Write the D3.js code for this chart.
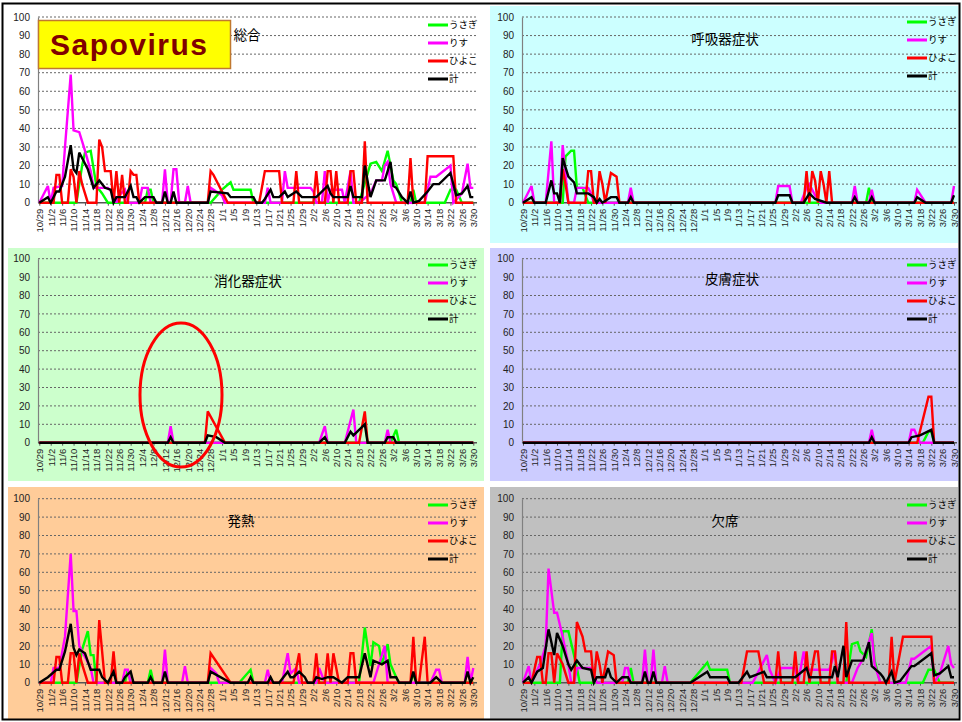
<!DOCTYPE html>
<html><head><meta charset="utf-8">
<script src="https://cdnjs.cloudflare.com/ajax/libs/d3/7.8.5/d3.min.js"></script>
<style>body{margin:0;background:#fff;}svg{display:block;}</style>
</head><body>
<svg id="c" width="962" height="722"></svg>
<script>
// ---------- DATA ----------
// day index 0 = 10/29, one step per day, 152 = 3/30
const tickLabels = ["10/29","11/2","11/6","11/10","11/14","11/18","11/22","11/26","11/30","12/4","12/8","12/12","12/16","12/20","12/24","12/28","1/1","1/5","1/9","1/13","1/17","1/21","1/25","1/29","2/2","2/6","2/10","2/14","2/18","2/22","2/26","3/2","3/6","3/10","3/14","3/18","3/22","3/26","3/30"];
const yTicks = [0,10,20,30,40,50,60,70,80,90,100];
const seriesNames = ["うさぎ","りす","ひよこ","計"];
const panelTitles = ["総合","呼吸器症状","消化器症状","皮膚症状","発熱","欠席"];

// 総合
const sogoUsagi = [[0,0],[13,0],[15,20],[16,27],[18,28],[20,9],[22,5],[24,0],[37,0],[38,7],[39,7],[40,0],[60,0],[64,7],[67,11],[68,7],[74,7],[75,0],[112,0],[116,21],[118,22],[120,17],[122,28],[124,12],[125,10],[127,0],[130,0],[131,7],[132,0],[142,0],[144,7],[146,7],[148,0],[152,0]];
const sogoRisu = [[0,0],[3,9],[4,0],[5,8],[8,9],[9,30],[11,69],[12,39],[14,38],[16,28],[18,17],[19,8],[24,8],[26,5],[27,0],[28,4],[30,7],[31,0],[35,0],[36,8],[38,8],[39,0],[43,0],[44,18],[45,0],[46,0],[47,18],[48,18],[49,0],[51,0],[52,9],[53,0],[59,0],[60,8],[62,6],[64,4],[65,0],[79,0],[80,8],[81,0],[85,0],[86,17],[87,8],[95,8],[96,6],[97,0],[99,0],[100,17],[101,0],[102,7],[106,7],[107,0],[109,17],[110,0],[112,0],[116,5],[118,12],[120,12],[121,20],[122,22],[123,10],[125,0],[135,0],[137,14],[139,14],[144,20],[145,0],[148,5],[150,21],[151,8],[152,8]];
const sogoHiyoko = [[0,0],[5,0],[6,15],[7,15],[8,0],[10,0],[11,18],[12,14],[13,0],[14,17],[15,10],[17,0],[20,0],[21,34],[22,30],[23,17],[25,17],[26,0],[27,17],[28,0],[29,15],[30,0],[31,0],[32,17],[33,15],[34,15],[35,0],[59,0],[60,17],[61,15],[66,0],[77,0],[79,17],[84,17],[85,0],[89,0],[90,17],[91,0],[96,0],[97,17],[98,0],[100,0],[101,17],[102,17],[103,0],[104,17],[105,0],[108,0],[109,17],[110,17],[111,0],[113,0],[114,33],[115,0],[129,0],[130,24],[131,0],[135,0],[136,25],[145,25],[146,0],[152,0]];
const sogoKei = [[0,0],[3,3],[4,0],[6,6],[7,6],[9,14],[11,31],[12,18],[13,16],[14,27],[17,18],[19,8],[21,12],[23,8],[25,7],[26,0],[27,3],[30,3],[32,9],[33,3],[34,3],[35,0],[37,3],[40,3],[41,0],[43,0],[44,6],[45,0],[46,0],[47,6],[48,0],[59,0],[60,6],[66,5],[67,3],[75,3],[76,0],[78,0],[79,2],[81,7],[82,3],[84,3],[86,6],[87,3],[90,6],[92,3],[97,3],[101,9],[102,5],[103,3],[108,3],[109,9],[110,3],[113,3],[114,20],[116,3],[118,12],[121,12],[123,22],[124,9],[125,8],[127,3],[129,0],[130,6],[131,0],[133,1],[136,6],[138,10],[140,10],[144,16],[146,4],[148,5],[150,9],[151,3],[152,3]];

// 呼吸器症状
const kokyuUsagi = [[0,0],[14,0],[15,25],[17,28],[18,28],[19,8],[21,8],[23,0],[121,0],[122,8],[123,0],[152,0]];
const kokyuRisu = [[0,0],[3,9],[4,0],[8,0],[10,33],[11,0],[13,0],[14,31],[15,15],[16,0],[18,0],[19,8],[23,8],[24,5],[25,0],[37,0],[38,8],[39,0],[89,0],[90,9],[94,9],[95,0],[98,0],[100,8],[101,10],[103,4],[105,0],[116,0],[117,9],[118,0],[122,0],[123,7],[124,0],[138,0],[139,7],[142,0],[151,0],[152,9]];
const kokyuHiyoko = [[0,0],[13,0],[14,18],[15,10],[16,0],[22,0],[23,17],[24,17],[25,0],[26,0],[27,17],[28,10],[29,0],[31,16],[33,14],[34,0],[99,0],[100,17],[101,0],[102,17],[103,12],[104,0],[105,17],[106,10],[107,0],[108,17],[109,0],[152,0]];
const kokyuKei = [[0,0],[3,3],[4,0],[8,0],[10,12],[11,5],[12,5],[13,0],[14,24],[16,14],[18,11],[19,5],[23,5],[25,3],[26,0],[27,2],[28,0],[31,3],[33,3],[34,0],[37,0],[38,3],[39,0],[89,0],[90,4],[94,4],[95,0],[99,0],[101,5],[103,2],[107,0],[116,0],[117,3],[118,0],[122,0],[123,3],[124,0],[138,0],[139,3],[142,0],[151,0],[152,4]];

// 消化器症状
const shokaUsagi = [[0,0],[123,0],[125,7],[126,0],[152,0]];
const shokaRisu = [[0,0],[45,0],[46,9],[47,0],[98,0],[100,9],[101,0],[107,0],[110,18],[111,0],[121,0],[122,7],[123,0],[152,0]];
const shokaHiyoko = [[0,0],[58,0],[59,17],[65,0],[112,0],[114,17],[115,0],[152,0]];
const shokaKei = [[0,0],[45,0],[46,3],[47,0],[58,0],[59,4],[62,3],[65,0],[98,0],[100,3],[101,0],[107,0],[109,6],[110,4],[112,7],[114,10],[115,0],[121,0],[122,3],[124,3],[125,0],[152,0]];

// 皮膚症状
const hifuUsagi = [[0,0],[141,0],[143,6],[144,6],[145,0],[152,0]];
const hifuRisu = [[0,0],[122,0],[123,7],[124,0],[136,0],[137,7],[138,7],[140,0],[152,0]];
const hifuHiyoko = [[0,0],[139,0],[143,25],[144,25],[145,0],[152,0]];
const hifuKei = [[0,0],[122,0],[123,3],[124,0],[136,0],[137,3],[140,4],[144,7],[145,0],[152,0]];

// 発熱
const netsuUsagi = [[0,0],[13,0],[15,18],[17,28],[18,15],[19,15],[20,0],[30,0],[31,7],[32,0],[38,0],[39,7],[40,0],[70,0],[74,7],[75,0],[112,0],[114,30],[116,9],[117,22],[119,20],[120,10],[122,21],[123,10],[125,3],[126,0],[130,0],[131,5],[132,0],[152,0]];
const netsuRisu = [[0,0],[4,0],[5,8],[7,8],[9,25],[11,70],[12,39],[13,39],[14,20],[16,14],[18,8],[19,0],[29,0],[30,7],[31,7],[32,0],[43,0],[44,18],[45,0],[50,0],[51,9],[52,0],[59,0],[60,8],[62,5],[63,0],[79,0],[80,7],[81,0],[85,0],[87,16],[88,5],[90,8],[91,0],[97,0],[98,8],[100,0],[117,0],[118,5],[121,20],[122,0],[137,0],[139,7],[140,7],[141,0],[149,0],[150,14],[151,0],[152,8]];
const netsuHiyoko = [[0,0],[5,0],[6,14],[7,14],[8,0],[10,0],[11,16],[12,16],[13,0],[14,16],[15,10],[17,0],[20,0],[21,34],[23,0],[25,0],[26,17],[27,0],[59,0],[60,16],[67,0],[89,0],[91,16],[92,0],[96,0],[97,16],[98,0],[100,0],[101,16],[102,0],[103,16],[105,0],[108,0],[109,16],[110,16],[111,0],[130,0],[131,25],[132,0],[133,0],[135,25],[136,0],[152,0]];
const netsuKei = [[0,0],[3,3],[6,7],[7,7],[9,17],[11,32],[12,19],[13,15],[14,18],[16,16],[18,7],[21,7],[22,3],[24,0],[26,6],[27,0],[29,0],[30,3],[32,6],[33,0],[38,0],[39,3],[40,0],[43,0],[44,6],[45,0],[59,0],[60,6],[67,0],[73,0],[74,3],[75,0],[80,0],[81,3],[82,0],[84,0],[87,6],[88,3],[89,3],[91,6],[93,3],[94,0],[96,0],[97,3],[99,2],[101,3],[103,3],[106,0],[108,3],[110,3],[112,3],[114,16],[116,3],[117,12],[120,10],[122,12],[123,3],[125,3],[126,0],[130,0],[131,6],[132,0],[137,0],[139,3],[141,0],[149,0],[150,6],[151,0],[152,3]];

// 欠席
const kessekiUsagi = [[0,0],[13,0],[14,28],[16,28],[18,15],[19,8],[20,0],[37,0],[38,8],[39,0],[59,0],[65,11],[66,7],[72,7],[73,0],[114,0],[116,21],[118,22],[119,17],[121,14],[123,29],[124,12],[126,0],[141,0],[143,7],[145,7],[147,0],[152,0]];
const kessekiRisu = [[0,0],[2,9],[3,0],[6,10],[8,20],[9,62],[11,38],[12,38],[14,25],[16,10],[17,0],[18,0],[19,8],[24,8],[25,5],[26,0],[35,0],[36,8],[37,8],[38,0],[42,0],[43,18],[44,0],[45,0],[46,18],[47,0],[49,0],[50,9],[51,0],[81,0],[86,15],[87,7],[89,0],[91,8],[96,8],[97,0],[99,17],[100,7],[103,7],[108,7],[110,17],[111,0],[116,0],[118,8],[120,13],[122,22],[123,27],[124,10],[126,0],[135,0],[137,13],[138,13],[144,20],[145,0],[147,5],[150,20],[151,10],[152,8]];
const kessekiHiyoko = [[0,0],[3,0],[5,14],[6,14],[7,0],[8,0],[9,16],[10,16],[11,0],[12,16],[14,10],[16,0],[18,0],[19,33],[21,25],[22,17],[24,17],[25,0],[26,17],[27,10],[28,0],[30,17],[32,15],[33,0],[77,0],[79,17],[83,17],[85,0],[89,0],[90,17],[91,0],[95,0],[96,17],[97,0],[99,0],[100,17],[101,0],[103,17],[104,17],[105,0],[108,0],[109,17],[110,17],[111,0],[113,0],[114,33],[115,0],[129,0],[130,25],[131,0],[134,25],[144,25],[145,0],[152,0]];
const kessekiKei = [[0,0],[2,3],[3,0],[5,6],[7,8],[9,29],[11,15],[12,27],[14,20],[16,10],[17,7],[19,12],[21,8],[24,7],[25,0],[26,3],[29,3],[30,8],[31,3],[33,0],[35,3],[37,3],[38,0],[42,0],[43,6],[44,0],[45,0],[46,6],[47,0],[59,0],[65,6],[66,3],[72,3],[73,0],[76,0],[79,6],[80,3],[85,6],[86,3],[96,3],[100,8],[101,3],[109,3],[110,9],[111,3],[113,20],[114,3],[116,12],[120,12],[122,22],[123,9],[126,5],[127,3],[128,0],[130,6],[131,0],[133,1],[137,9],[138,9],[144,16],[145,4],[147,5],[150,9],[151,3],[152,3]];

const panelData = [
  [sogoUsagi, sogoRisu, sogoHiyoko, sogoKei],
  [kokyuUsagi, kokyuRisu, kokyuHiyoko, kokyuKei],
  [shokaUsagi, shokaRisu, shokaHiyoko, shokaKei],
  [hifuUsagi, hifuRisu, hifuHiyoko, hifuKei],
  [netsuUsagi, netsuRisu, netsuHiyoko, netsuKei],
  [kessekiUsagi, kessekiRisu, kessekiHiyoko, kessekiKei]
];

// ---------- STYLE / LAYOUT ----------
const colors = ["#00FF00","#FF00FF","#FF0000","#000000"];
const layout = [
  {bx:8, by:6, bw:476,bh:237,bg:"#FFFFFF",ax:38, x0:39.3,x1:473.3,gx1:477,yT:17,  yB:202.7,tx:247,ty:36, lx:428,ly:25},
  {bx:490,by:6, bw:468,bh:237,bg:"#CCFFFF",ax:522,x0:523, x1:954, gx1:957,yT:17,  yB:202.7,tx:725,ty:40, lx:907,ly:22},
  {bx:8, by:248,bw:476,bh:233,bg:"#CCFFCC",ax:38, x0:39.3,x1:473.3,gx1:477,yT:258.7,yB:442.7,tx:248,ty:282,lx:428,ly:265},
  {bx:490,by:248,bw:468,bh:233,bg:"#CCCCFF",ax:522,x0:523, x1:954, gx1:957,yT:258.7,yB:442.7,tx:732,ty:280,lx:907,ly:265},
  {bx:8, by:487,bw:476,bh:232,bg:"#FFCC99",ax:38, x0:39.3,x1:473.3,gx1:477,yT:498.7,yB:682.7,tx:241,ty:522,lx:428,ly:505},
  {bx:490,by:487,bw:468,bh:232,bg:"#C0C0C0",ax:522,x0:523, x1:954, gx1:957,yT:498.7,yB:682.7,tx:725,ty:522,lx:907,ly:505}
];

const svg = d3.select("#c");
svg.append("rect").attr("x",0).attr("y",0).attr("width",962).attr("height",722).attr("fill","#fff");

const jp = "'Noto Sans CJK JP', 'Noto Sans', sans-serif";
const lat = "'Liberation Sans', Arial, sans-serif";

layout.forEach((L, pi) => {
  const g = svg.append("g");
  g.append("rect").attr("x",L.bx).attr("y",L.by).attr("width",L.bw).attr("height",L.bh).attr("fill",L.bg);
  const x = d3.scaleLinear().domain([0,152]).range([L.x0, L.x1]);
  const y = d3.scaleLinear().domain([0,100]).range([L.yB, L.yT]);

  // gridlines
  g.selectAll(".grid").data(yTicks.filter(v=>v>0)).join("line")
    .attr("x1",L.ax).attr("x2",L.gx1).attr("y1",d=>y(d)).attr("y2",d=>y(d))
    .attr("stroke","#666").attr("stroke-width",1).attr("stroke-dasharray","2,2");

  // y axis
  const yAxis = d3.axisLeft(y).tickValues(yTicks).tickSize(0).tickPadding(8);
  const ya = g.append("g").attr("transform",`translate(${L.ax},0)`).call(yAxis);
  ya.select(".domain").attr("stroke","#808080").attr("stroke-width",1.2);
  ya.selectAll("text").attr("font-family",lat).attr("font-size",10).attr("fill","#222");

  // x axis
  const xAxis = d3.axisBottom(x).tickValues(tickLabels.map((t,i)=>i*4))
    .tickFormat((d,i)=>tickLabels[i]).tickSize(3).tickSizeOuter(0);
  const xa = g.append("g").attr("transform",`translate(0,${L.yB})`).call(xAxis);
  xa.select(".domain").attr("stroke","#555").attr("stroke-width",1.5)
    .attr("d",`M${L.ax},0H${L.gx1}`);
  xa.selectAll(".tick line").attr("stroke","#555");
  xa.selectAll("text").attr("font-family",lat).attr("font-size",9.5).attr("fill","#222")
    .attr("text-anchor","end").attr("dy","0.35em")
    .attr("transform","translate(0,2) rotate(-90)").attr("x",-4).attr("y",0);

  // series
  const line = d3.line().x(p=>x(p[0])).y(p=>y(p[1]));
  panelData[pi].forEach((s, si) => {
    g.append("path").attr("d", line(s)).attr("fill","none")
      .attr("stroke", colors[si]).attr("stroke-width", 2.4)
      .attr("stroke-linejoin","miter").attr("stroke-miterlimit",3);
  });

  // title
  g.append("text").attr("x",L.tx).attr("y",L.ty).attr("text-anchor","middle")
    .attr("dominant-baseline","middle").attr("font-family",jp).attr("font-size",13.5)
    .attr("fill","#000").text(panelTitles[pi]);

  // legend
  seriesNames.forEach((n, si) => {
    const ly = L.ly + si*18;
    g.append("line").attr("x1",L.lx).attr("x2",L.lx+20).attr("y1",ly).attr("y2",ly)
      .attr("stroke",colors[si]).attr("stroke-width",3);
    g.append("text").attr("x",L.lx+21).attr("y",ly).attr("dominant-baseline","middle")
      .attr("font-family",jp).attr("font-size",9.5).attr("fill","#000").text(n);
  });
});

// Sapovirus label
svg.append("rect").attr("x",38.5).attr("y",20.5).attr("width",192).attr("height",48)
  .attr("fill","#FFFF00").attr("stroke","#C07830").attr("stroke-width",1.5);
svg.append("text").attr("x",50).attr("y",55).attr("font-family",lat).attr("font-weight","bold")
  .attr("font-size",30).attr("letter-spacing",1.5).attr("fill","#800000").text("Sapovirus");

// red ellipse in 消化器症状
svg.append("ellipse").attr("cx",181).attr("cy",395).attr("rx",41).attr("ry",72)
  .attr("fill","none").attr("stroke","#FF0000").attr("stroke-width",3);

// outer border
svg.append("rect").attr("x",2.5).attr("y",3.5).attr("width",957).attr("height",716)
  .attr("fill","none").attr("stroke","#000").attr("stroke-width",2);
</script>
</body></html>
